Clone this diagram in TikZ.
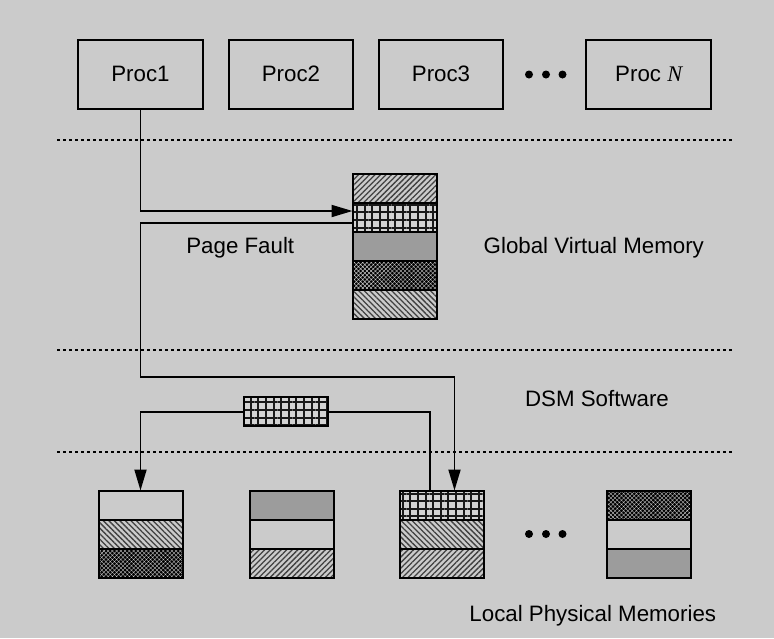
\documentclass[tikz,border=0pt]{standalone}
\usepackage{fontspec}
\setmainfont{Liberation Sans}
\newfontfamily\serifN{Liberation Serif}
\usetikzlibrary{patterns.meta,arrows.meta,calc}
\definecolor{bg}{RGB}{203,203,203}
\definecolor{midgray}{RGB}{156,156,156}
\tikzset{
  every node/.style={font=\fontsize{22.3pt}{26pt}\selectfont},
  procbox/.style={draw=black, line width=2pt, minimum width=124.5pt, minimum height=69.5pt,
    inner sep=0pt, outer sep=0pt, text height=16pt, text depth=2.5pt},
  seg/.style={draw=black, line width=2pt, minimum width=84pt, minimum height=29pt,
    inner sep=0pt, outer sep=0pt},
  plainseg/.style={seg, fill=bg},
  grayseg/.style={seg, fill=midgray},
  hne/.style={seg, preaction={fill=bg}, pattern={Lines[angle=45,distance=3.9pt,line width=1.3pt]}, pattern color=black!75},
  hnw/.style={seg, preaction={fill=bg}, pattern={Lines[angle=-45,distance=3.9pt,line width=1.3pt]}, pattern color=black!75},
  gridseg/.style={seg, preaction={fill=bg!85!white}, pattern={Hatch[angle=0,distance=7.6pt,line width=2pt]}, pattern color=black!90},
  darkseg/.style={seg, preaction={fill=black}, pattern={Hatch[angle=45,distance=3pt,line width=0.4pt]}, pattern color=gray!45},
  conn/.style={draw=black, line width=1.9pt},
  arr/.style={conn, -{Triangle[length=21pt 0 0,width=12pt 0]}},
  sep/.style={draw=black, line width=1.5pt, dash pattern=on 3pt off 3pt},
  dot/.style={circle, fill=black, inner sep=0pt, minimum size=8pt},
  lbl/.style={anchor=base, inner sep=0pt},
}
\begin{document}
\begin{tikzpicture}[x=1pt,y=-1pt]
\useasboundingbox (0,0) rectangle (774,638);
\fill[bg] (0,0) rectangle (774,638);

% processors
\node[procbox] (proc1) at (140.5,74.7) {Proc1};
\node[procbox] (proc2) at (291,74.7) {Proc2};
\node[procbox] (proc3) at (441,74.7) {Proc3};
\node[procbox] (procN) at (648.7,74.7) {Proc {\serifN\itshape N}};
\node[dot] (d1) at (529,74.5) {};
\node[dot] (d2) at (546,74.5) {};
\node[dot] (d3) at (562.5,74.5) {};

% separators
\draw[sep] (57,140) -- (734,140);
\draw[sep] (57,350) -- (734,350);
\draw[sep] (57,452) -- (734,452);

% global virtual memory
\node[hne]      (g1) at (394.5,188.4) {};
\node[gridseg]  (g2) at (394.5,217.2) {};
\node[grayseg]  (g3) at (394.5,246) {};
\node[darkseg]  (g4) at (394.5,275) {};
\node[hnw]      (g5) at (394.5,304) {};

% transfer block
\node[gridseg] (xfer) at (285.7,411.7) {};

% local memories
\node[plainseg] (m1a) at (140.5,505) {};
\node[hnw]      (m1b) at (140.5,534) {};
\node[darkseg]  (m1c) at (140.5,563) {};

\node[grayseg]  (m2a) at (291.7,505) {};
\node[plainseg] (m2b) at (291.7,534) {};
\node[hne]      (m2c) at (291.7,563) {};

\node[gridseg]  (m3a) at (442.2,505) {};
\node[hnw]      (m3b) at (442.2,534) {};
\node[hne]      (m3c) at (442.2,563) {};

\node[darkseg]  (m4a) at (648.5,505) {};
\node[plainseg] (m4b) at (648.5,534) {};
\node[grayseg]  (m4c) at (648.5,563) {};

\node[dot] (e1) at (529,534) {};
\node[dot] (e2) at (546,534) {};
\node[dot] (e3) at (562.5,534) {};

% labels
\node[lbl] (lpf)  at (240.3,253) {Page Fault};
\node[lbl] (lgvm) at (593.8,253) {Global Virtual Memory};
\node[lbl] (ldsm) at (597,406.5) {DSM Software};
\node[lbl] (llpm) at (592.8,621) {Local Physical Memories};

% connectors
\coordinate (k1) at (140.5,377);
\draw[arr] (proc1.south) |- ($(g2.west)+(0,-6.2)$);
\draw[arr] ($(g2.west)+(0,5.5)$) -| (k1) -| ($(m3a.north)+(12.3,0)$);
\draw[conn] ($(m3a.north)+(-12,0)$) |- (xfer.east);
\draw[arr] (xfer.west) -| (m1a.north);
\end{tikzpicture}
\end{document}
